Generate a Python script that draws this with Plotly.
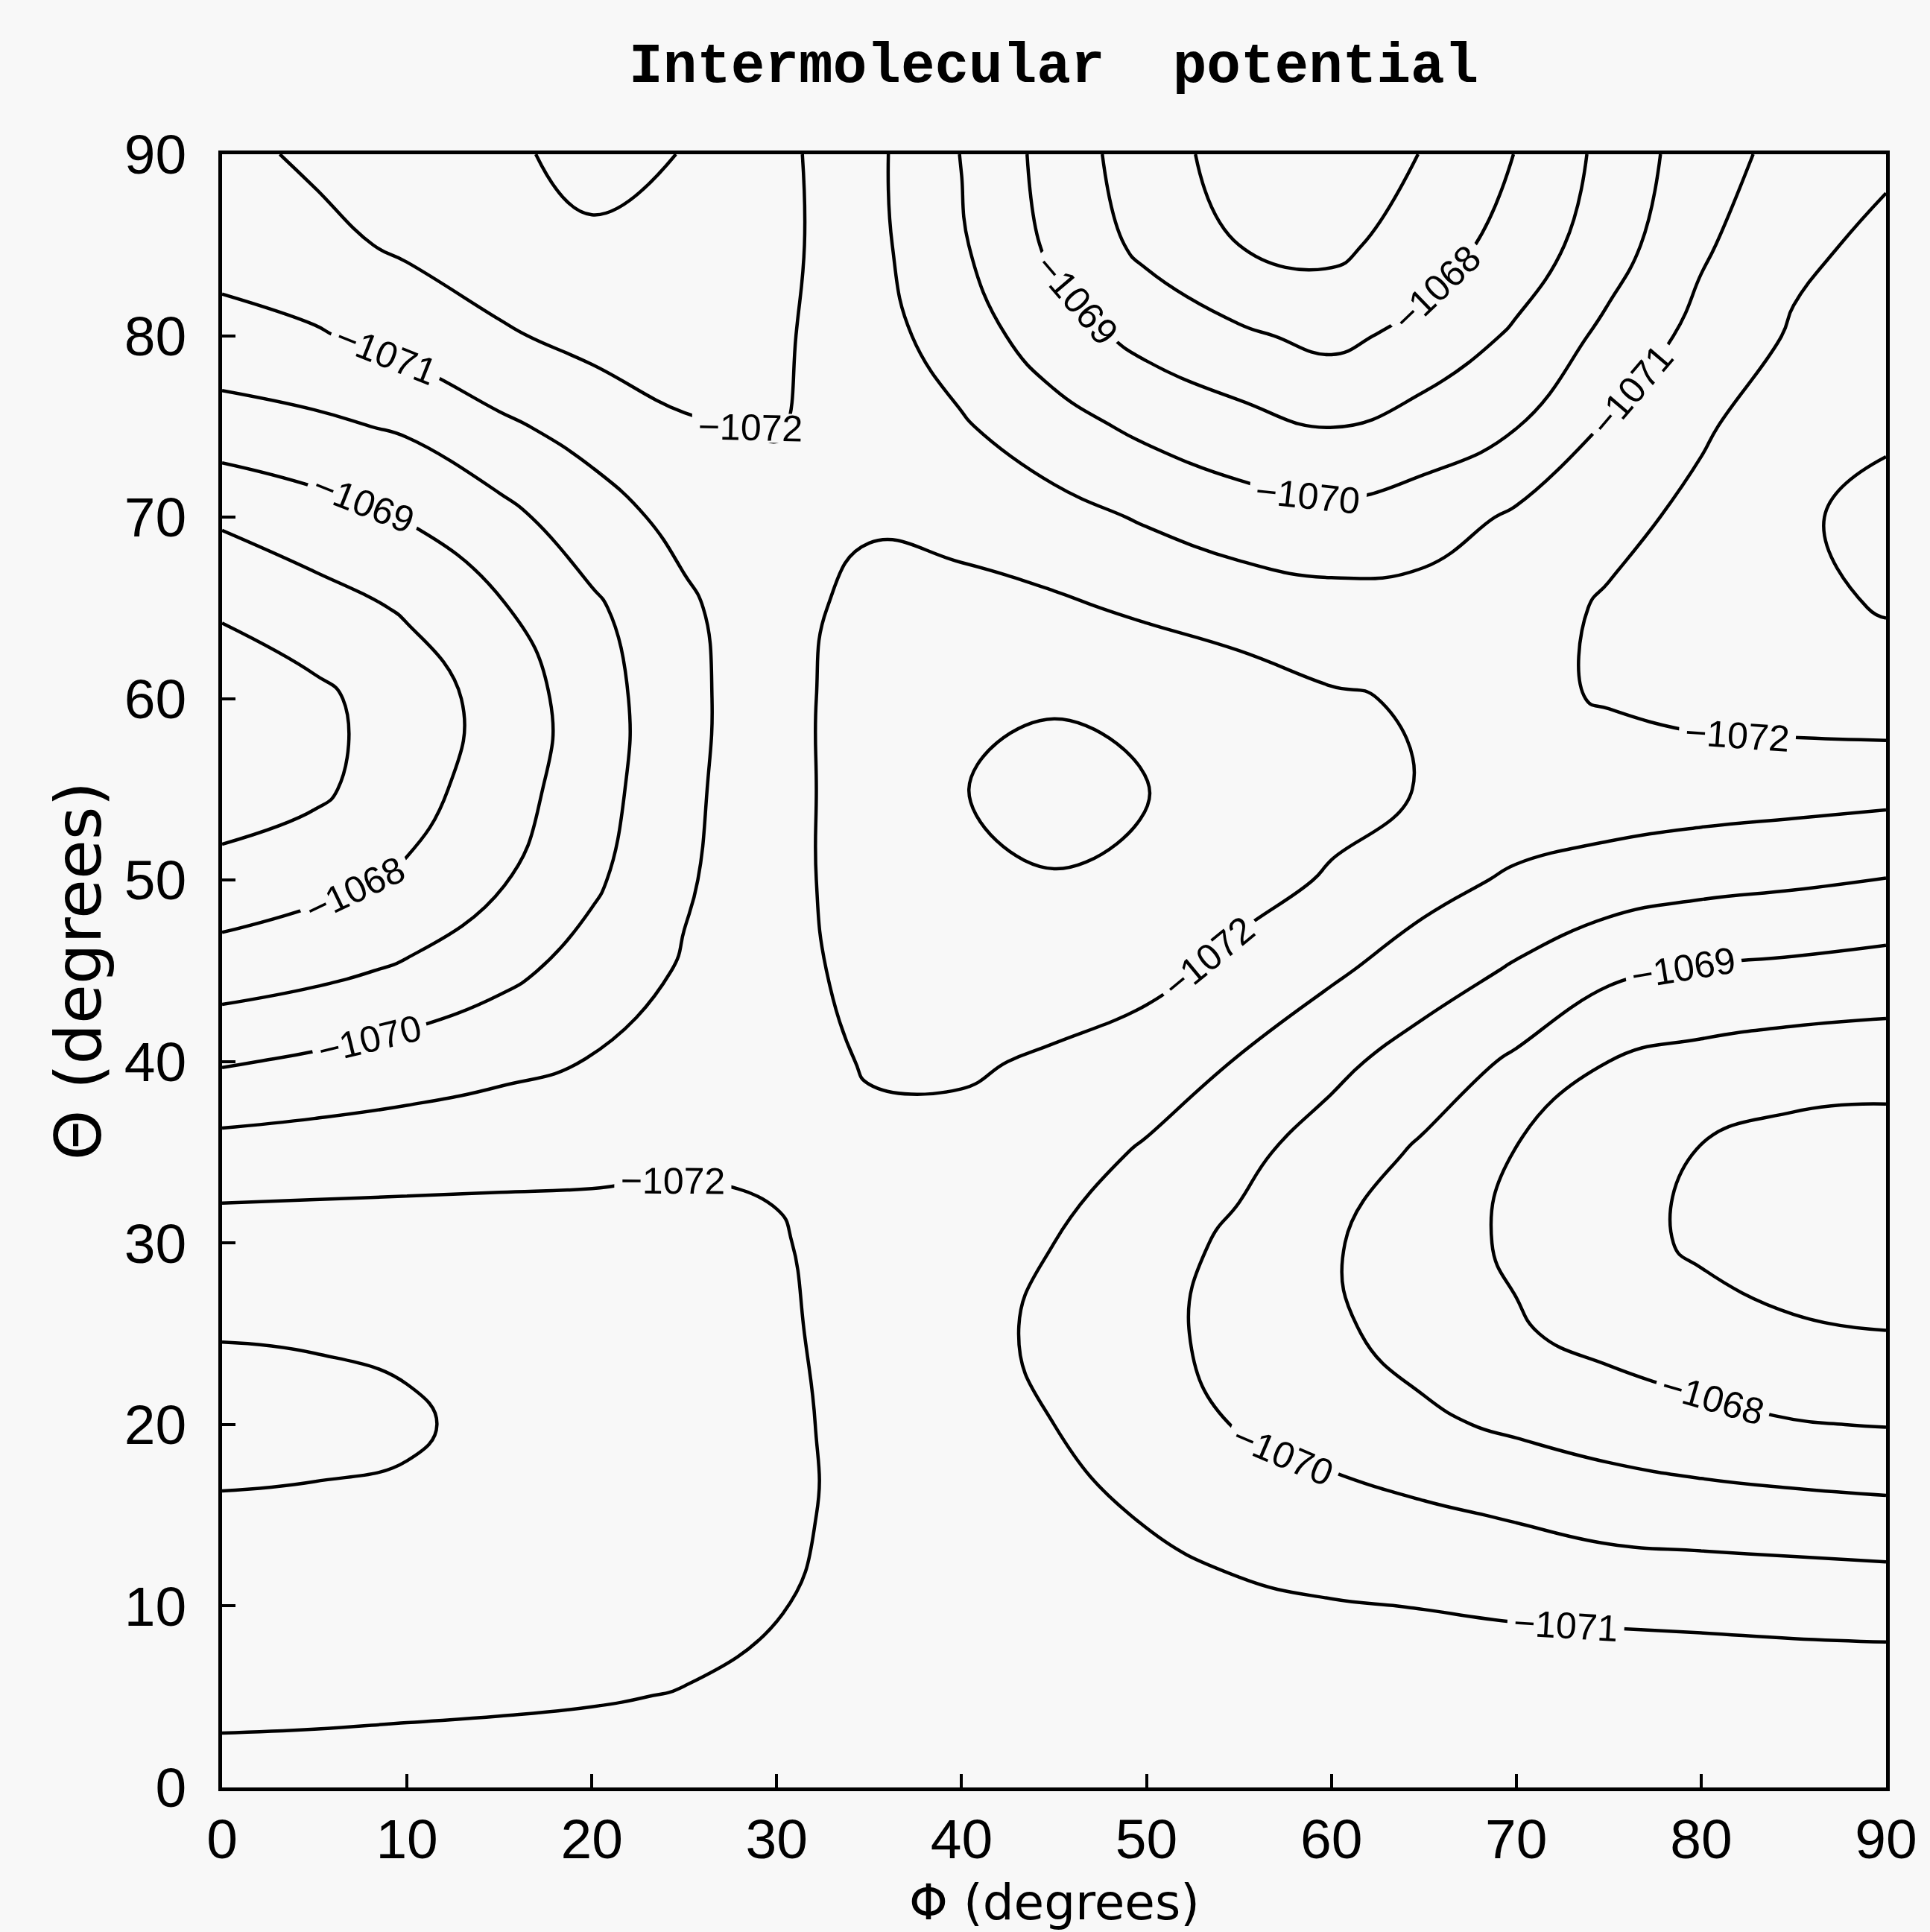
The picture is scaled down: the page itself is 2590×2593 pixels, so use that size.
import plotly.graph_objects as go

# Grid of the plot (degrees)
phi_deg = [0, 5, 10, 15, 20, 25, 30, 35, 40, 45, 50, 55, 60, 65, 70, 75, 80, 85, 90]
theta_deg = [0, 5, 10, 15, 20, 25, 30, 35, 40, 45, 50, 55, 60, 65, 70, 75, 80, 85, 90]

# Potential, one row per Theta value (Phi = 0..90)
V_T00 = [-1071.85, -1071.82, -1071.80, -1071.78, -1071.76, -1071.74, -1071.72, -1071.70, -1071.68, -1071.67, -1071.66, -1071.65, -1071.63, -1071.62, -1071.60, -1071.60, -1071.60, -1071.62, -1071.65]
V_T05 = [-1072.10, -1072.10, -1072.08, -1072.06, -1072.03, -1071.98, -1071.90, -1071.78, -1071.70, -1071.65, -1071.60, -1071.55, -1071.50, -1071.50, -1071.50, -1071.50, -1071.50, -1071.50, -1071.50]
V_T10 = [-1072.50, -1072.47, -1072.42, -1072.35, -1072.27, -1072.15, -1072.02, -1071.87, -1071.70, -1071.50, -1071.30, -1071.15, -1071.05, -1070.98, -1070.89, -1070.84, -1070.79, -1070.72, -1070.67]
V_T15 = [-1072.89, -1072.87, -1072.82, -1072.62, -1072.45, -1072.30, -1072.12, -1071.84, -1071.54, -1071.24, -1070.95, -1070.68, -1070.42, -1070.16, -1069.92, -1069.61, -1069.49, -1069.40, -1069.29]
V_T20 = [-1073.30, -1073.22, -1073.12, -1072.75, -1072.58, -1072.40, -1072.15, -1071.79, -1071.40, -1071.00, -1070.46, -1069.94, -1069.55, -1069.17, -1068.84, -1068.56, -1068.28, -1068.05, -1067.96]
V_T25 = [-1072.97, -1072.94, -1072.85, -1072.62, -1072.45, -1072.30, -1072.12, -1071.72, -1071.29, -1070.82, -1070.26, -1069.70, -1069.17, -1068.64, -1068.10, -1067.70, -1067.40, -1067.15, -1067.03]
V_T30 = [-1072.47, -1072.46, -1072.45, -1072.43, -1072.39, -1072.37, -1072.06, -1071.70, -1071.35, -1071.00, -1070.42, -1069.80, -1069.10, -1068.42, -1067.85, -1067.35, -1066.85, -1066.45, -1066.25]
V_T35 = [-1071.40, -1071.50, -1071.58, -1071.66, -1071.74, -1071.84, -1071.90, -1071.85, -1071.65, -1071.40, -1070.90, -1070.25, -1069.55, -1068.85, -1067.96, -1067.45, -1066.95, -1066.60, -1066.50]
V_T40 = [-1069.90, -1070.16, -1070.46, -1070.75, -1071.04, -1071.40, -1071.72, -1072.05, -1072.15, -1071.85, -1071.50, -1070.95, -1070.25, -1069.55, -1068.85, -1068.00, -1067.70, -1067.50, -1067.44]
V_T45 = [-1068.47, -1068.75, -1069.14, -1069.73, -1070.39, -1071.10, -1071.65, -1072.30, -1072.60, -1072.60, -1072.30, -1071.70, -1071.15, -1070.50, -1069.88, -1069.20, -1068.90, -1068.78, -1068.62]
V_T50 = [-1067.36, -1067.70, -1068.14, -1068.90, -1069.83, -1070.88, -1071.70, -1072.40, -1072.80, -1072.95, -1072.75, -1072.40, -1071.90, -1071.35, -1070.85, -1070.55, -1070.30, -1070.15, -1069.97]
V_T55 = [-1066.45, -1066.80, -1067.60, -1068.50, -1069.57, -1070.77, -1071.70, -1072.40, -1072.97, -1073.35, -1073.05, -1072.70, -1072.35, -1071.95, -1071.70, -1071.60, -1071.50, -1071.40, -1071.30]
V_T60 = [-1066.40, -1066.78, -1067.50, -1068.35, -1069.54, -1070.70, -1071.70, -1072.40, -1072.80, -1072.90, -1072.75, -1072.45, -1072.10, -1071.90, -1071.85, -1072.05, -1072.30, -1072.45, -1072.60]
V_T65 = [-1067.12, -1067.60, -1068.10, -1068.90, -1069.83, -1070.82, -1071.70, -1072.25, -1072.30, -1072.15, -1071.85, -1071.60, -1071.37, -1071.40, -1071.65, -1072.10, -1072.50, -1072.80, -1073.05]
V_T70 = [-1068.15, -1068.60, -1069.05, -1069.70, -1070.57, -1071.30, -1071.75, -1071.90, -1071.70, -1071.35, -1070.90, -1070.45, -1070.26, -1070.50, -1071.15, -1071.75, -1072.20, -1072.85, -1073.30]
V_T75 = [-1069.57, -1069.80, -1070.13, -1070.83, -1071.35, -1071.92, -1072.05, -1071.60, -1071.10, -1070.38, -1069.78, -1069.35, -1068.95, -1069.43, -1069.97, -1071.10, -1071.90, -1072.45, -1072.85]
V_T80 = [-1070.66, -1070.90, -1071.36, -1071.87, -1072.30, -1072.45, -1072.15, -1071.43, -1070.50, -1069.46, -1068.70, -1068.15, -1067.75, -1068.30, -1069.15, -1070.25, -1071.32, -1072.10, -1072.40]
V_T85 = [-1071.40, -1071.74, -1072.15, -1072.60, -1072.90, -1072.80, -1072.30, -1071.30, -1070.10, -1068.80, -1067.75, -1067.00, -1066.75, -1067.50, -1068.40, -1069.55, -1070.85, -1071.80, -1072.20]
V_T90 = [-1071.75, -1072.15, -1072.50, -1072.87, -1073.20, -1072.98, -1072.28, -1071.27, -1069.97, -1068.60, -1067.45, -1066.60, -1066.25, -1067.05, -1068.03, -1069.30, -1070.55, -1071.35, -1071.85]

potential = [V_T00, V_T05, V_T10, V_T15, V_T20, V_T25, V_T30, V_T35, V_T40,
             V_T45, V_T50, V_T55, V_T60, V_T65, V_T70, V_T75, V_T80, V_T85, V_T90]

labeled_levels = dict(start=-1072, end=-1068, size=1)
unlabeled_levels = dict(start=-1073, end=-1067, size=6)

tick_vals = [0, 10, 20, 30, 40, 50, 60, 70, 80, 90]

black_scale = [[0, "black"], [1, "black"]]
bg = "#f8f8f8"

fig = go.Figure()
fig.add_trace(go.Contour(
    x=phi_deg, y=theta_deg, z=potential,
    autocontour=False,
    contours=dict(coloring="lines", showlabels=True,
                  labelfont=dict(family="Liberation Sans", size=50, color="black"),
                  **labeled_levels),
    colorscale=black_scale, showscale=False,
    line=dict(width=4.5, smoothing=1.3),
    hoverinfo="skip",
))
fig.add_trace(go.Contour(
    x=phi_deg, y=theta_deg, z=potential,
    autocontour=False,
    contours=dict(coloring="lines", showlabels=False, **unlabeled_levels),
    colorscale=black_scale, showscale=False,
    line=dict(width=4.5, smoothing=1.3),
    hoverinfo="skip",
))

axis_common = dict(
    range=[0, 90], tickvals=tick_vals, ticks="inside", ticklen=18, tickwidth=3.5,
    tickcolor="black", showline=True, linewidth=4.5, linecolor="black",
    mirror=True, showgrid=False, zeroline=False, automargin=False,
    tickfont=dict(family="Liberation Sans", size=75, color="black"),
)

fig.update_layout(
    width=2590, height=2593, autosize=False,
    margin=dict(l=298, r=59, t=207, b=194),
    paper_bgcolor=bg, plot_bgcolor=bg,
    title=dict(text="<b>Intermolecular  potential</b>", x=0.546, xanchor="center",
               y=0.968, yanchor="middle",
               font=dict(family="Liberation Mono", size=76, color="black")),
    xaxis=dict(**axis_common, ticklabelstandoff=0),
    yaxis=dict(**axis_common, ticklabelstandoff=28,
               title=dict(text="Θ (degrees)", standoff=4,
                          font=dict(family="DejaVu Sans", size=86, color="black"))),
    showlegend=False,
    annotations=[dict(text="Φ (degrees)", xref="paper", yref="paper",
                      x=0.5, y=-0.0704, xanchor="center", yanchor="middle",
                      showarrow=False,
                      font=dict(family="DejaVu Sans", size=66, color="black"))],
)

fig.write_html("out.html")
